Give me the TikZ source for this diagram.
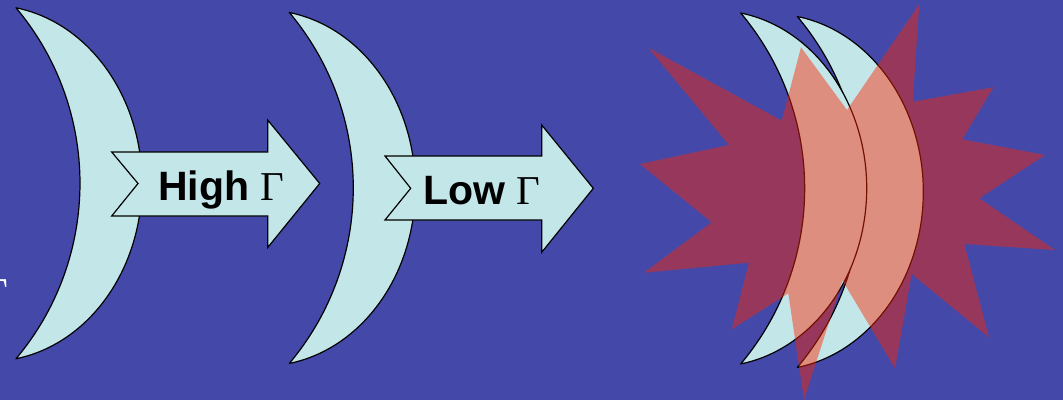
\documentclass[tikz,border=0pt]{standalone}
\usepackage{fontspec}
\setmainfont{Liberation Sans}
\newfontfamily\grserif{Liberation Serif}
\definecolor{bgblue}{RGB}{68,72,169}
\definecolor{moonfill}{RGB}{195,230,232}
\definecolor{burst}{RGB}{255,36,0}
\tikzset{
  moon/.style={draw=black, fill=moonfill, line width=1.2pt, line join=round},
  blockarrow/.style={draw=black, fill=moonfill, line width=1.2pt, line join=miter},
  burststyle/.style={fill=burst, fill opacity=0.45, draw=none},
  lbl/.style={inner sep=0pt, anchor=base west, font=\fontsize{41}{41}\selectfont\bfseries}
}
% crescent: #1 = tip x, #2 = middle y
\newcommand{\mymoon}[2]{%
  \draw[moon] (#1,#2-175.5)
    arc[start angle=-80.15, end angle=80.15, x radius=152, y radius=178.1]
    arc[start angle=40.07, end angle=-40.07, radius=272.6] -- cycle;}
\begin{document}
\begin{tikzpicture}[x=1pt,y=-1pt]
\useasboundingbox (0,0) rectangle (1063,400);
\fill[bgblue] (0,0) rectangle (1063,400);

% partial Gamma at left edge
\node[inner sep=0pt, anchor=base east, text=white, font=\fontsize{41}{41}\selectfont\grserif] (edgegamma) at (8,306) {Γ};

% first crescent and arrow
\mymoon{16}{183.3}
\draw[blockarrow] (111.7,152) -- (267.7,152) -- (267.7,120) -- (319.7,183.5)
  -- (267.7,247.5) -- (267.7,216) -- (111.7,216) -- (138,183.5) -- cycle;
\node[lbl] (high) at (158,200) {High {\mdseries\grserif Γ}};

% second crescent and arrow
\mymoon{289.3}{188}
\draw[blockarrow] (385,156) -- (541.7,156) -- (541.7,125) -- (593.3,188.3)
  -- (541.7,252.3) -- (541.7,220) -- (385,220) -- (410.7,188.3) -- cycle;
\node[lbl] (low) at (423,204) {Low {\mdseries\grserif Γ}};

% overlapping crescents
\mymoon{797.3}{192}
\mymoon{740.7}{188.5}

% explosion
\fill[burststyle] (640,164) -- (711.7,222.3) -- (644,272.7) -- (749,262.7)
  -- (731.7,329.3) -- (788.3,293.3) -- (804,400) -- (842.5,280.5)
  -- (895,368.3) -- (911.7,274) -- (989,337.3) -- (964.3,244)
  -- (1055,250) -- (979.3,198.3) -- (1045,155) -- (962.3,139.3)
  -- (993.3,87.3) -- (912.7,101.7) -- (919.3,4.3) -- (847,110)
  -- (801,47.3) -- (781.7,120.7) -- (648.3,47.7) -- (729,145) -- cycle;
\end{tikzpicture}
\end{document}
